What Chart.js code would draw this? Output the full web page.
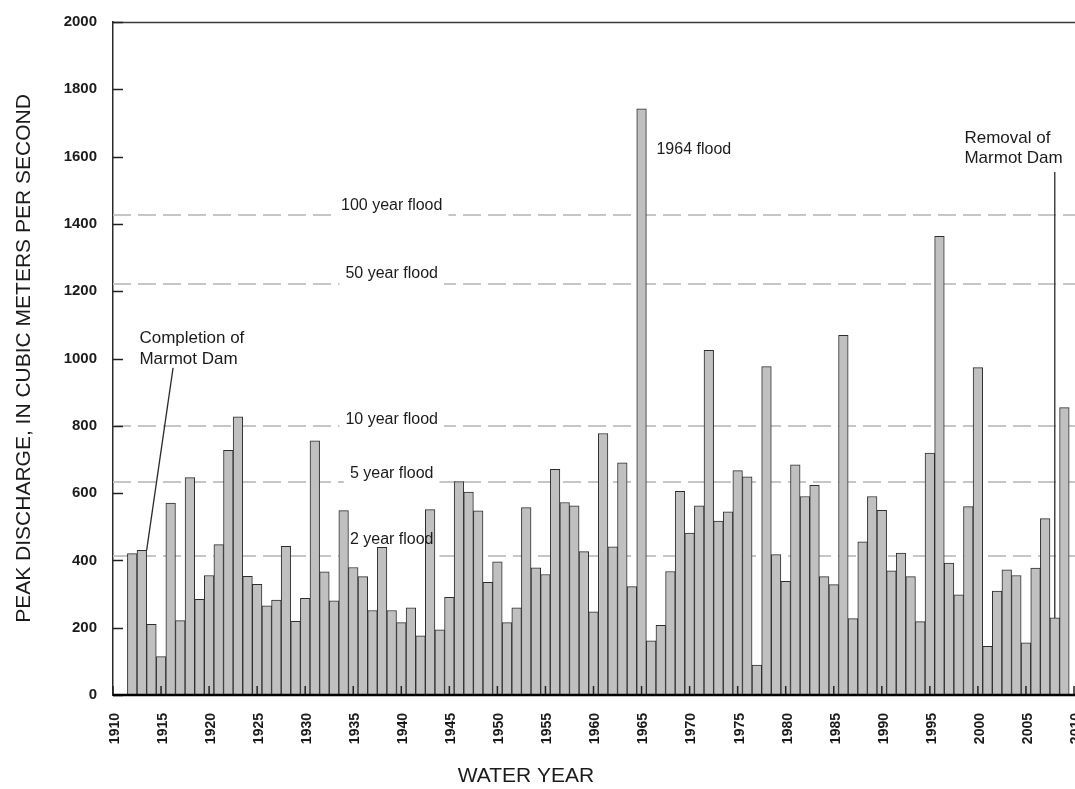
<!DOCTYPE html>
<html>
<head>
<meta charset="utf-8">
<title>Peak discharge by water year</title>
<script src="https://cdn.jsdelivr.net/npm/chart.js@4.4.1/dist/chart.umd.min.js"></script>
<style>
  html, body { margin: 0; padding: 0; background: #ffffff; }
  canvas { display: block; }
</style>
</head>
<body>
<canvas id="peaks" width="1075" height="789"></canvas>
<script>
// Annual peak discharge, cubic meters per second, by water year
const waterYears = [
  1912, 1913, 1914, 1915, 1916, 1917, 1918, 1919, 1920, 1921,
  1922, 1923, 1924, 1925, 1926, 1927, 1928, 1929, 1930, 1931,
  1932, 1933, 1934, 1935, 1936, 1937, 1938, 1939, 1940, 1941,
  1942, 1943, 1944, 1945, 1946, 1947, 1948, 1949, 1950, 1951,
  1952, 1953, 1954, 1955, 1956, 1957, 1958, 1959, 1960, 1961,
  1962, 1963, 1964, 1965, 1966, 1967, 1968, 1969, 1970, 1971,
  1972, 1973, 1974, 1975, 1976, 1977, 1978, 1979, 1980, 1981,
  1982, 1983, 1984, 1985, 1986, 1987, 1988, 1989, 1990, 1991,
  1992, 1993, 1994, 1995, 1996, 1997, 1998, 1999, 2000, 2001,
  2002, 2003, 2004, 2005, 2006, 2007, 2008, 2009
];
const peakDischarge = [
   420,  430,  210,  114,  570,  221,  646,  284,  355,  447,
   727,  827,  353,  329,  265,  282,  442,  219,  287,  755,
   366,  280,  548,  379,  352,  251,  439,  251,  215,  259,
   176,  551,  194,  290,  634,  603,  547,  335,  396,  215,
   259,  557,  378,  358,  671,  572,  562,  426,  247,  777,
   440,  690,  322, 1742,  161,  207,  367,  605,  481,  562,
  1024,  517,  544,  667,  648,   89,  976,  417,  338,  684,
   590,  623,  352,  328, 1069,  227,  455,  590,  549,  369,
   422,  352,  218,  719, 1363,  392,  298,  560,  973,  145,
   309,  372,  355,  155,  377,  524,  229,  854
];

// Recurrence-interval flood discharges
const floodLevels = [412, 632, 800, 1222, 1426];
const floodNames  = ['2 year flood', '5 year flood', '10 year flood', '50 year flood', '100 year flood'];

// Axis ticks
const xTickYears  = [1910, 1915, 1920, 1925, 1930, 1935, 1940, 1945, 1950, 1955, 1960,
                     1965, 1970, 1975, 1980, 1985, 1990, 1995, 2000, 2005, 2010];
const yTickValues = [0, 200, 400, 600, 800, 1000, 1200, 1400, 1600, 1800, 2000];

// Dam history
const damBuiltYear   = 1913;
const damRemovedYear = 2008;

// ---- styling -------------------------------------------------------------
const SANS = '"Liberation Sans", Arial, Helvetica, sans-serif';
const INK  = '#1b1b1b';

// where each flood label sits: centre year and lift above its line (px)
const floodLabelYear = 1939;
const floodLabelLift = [12.5, 4, 2, 6, 5.5];

function valueAt(year) {
  return peakDischarge[waterYears.indexOf(year)];
}

const overlay = {
  id: 'overlay',
  beforeDatasetsDraw(chart) {
    const { ctx, chartArea: a, scales: { x, y } } = chart;
    ctx.save();
    // dashed recurrence lines, behind the bars
    ctx.strokeStyle = '#c6c6c6';
    ctx.lineWidth = 2;
    ctx.setLineDash([18, 7]);
    floodLevels.forEach(v => {
      const py = Math.round(y.getPixelForValue(v));
      ctx.beginPath();
      ctx.moveTo(a.left, py);
      ctx.lineTo(chart.width, py);
      ctx.stroke();
    });
    ctx.setLineDash([]);
    // knock the line out behind each label
    ctx.font = '16px ' + SANS;
    ctx.fillStyle = '#ffffff';
    floodLevels.forEach((v, i) => {
      const w = ctx.measureText(floodNames[i]).width;
      const cx = x.getPixelForValue(floodLabelYear);
      const py = y.getPixelForValue(v);
      ctx.fillRect(cx - w / 2 - 6, py - 3, w + 12, 6);
    });
    ctx.restore();
  },
  afterDatasetsDraw(chart) {
    const { ctx, chartArea: a, scales: { x, y } } = chart;
    ctx.save();

    // flood labels
    ctx.font = '16px ' + SANS;
    ctx.fillStyle = INK;
    ctx.textAlign = 'center';
    ctx.textBaseline = 'alphabetic';
    floodLevels.forEach((v, i) => {
      ctx.fillText(floodNames[i], x.getPixelForValue(floodLabelYear),
                   y.getPixelForValue(v) - floodLabelLift[i]);
    });

    // frame: top edge, baseline, inward ticks
    ctx.strokeStyle = '#3a3a3a';
    ctx.lineWidth = 1.5;
    ctx.beginPath();
    ctx.moveTo(a.left, a.top + 0.5);
    ctx.lineTo(chart.width, a.top + 0.5);
    ctx.stroke();

    ctx.strokeStyle = '#222';
    ctx.lineWidth = 1.5;
    yTickValues.forEach(v => {
      const py = Math.round(y.getPixelForValue(v)) + 0.5;
      ctx.beginPath();
      ctx.moveTo(a.left, py);
      ctx.lineTo(a.left + 10, py);
      ctx.stroke();
    });
    xTickYears.forEach(t => {
      const px = x.getPixelForValue(t);
      ctx.beginPath();
      ctx.moveTo(px, a.bottom);
      ctx.lineTo(px, a.bottom - 9);
      ctx.stroke();
    });

    ctx.strokeStyle = '#000';
    ctx.lineWidth = 2.5;
    ctx.beginPath();
    ctx.moveTo(a.left, a.bottom);
    ctx.lineTo(chart.width, a.bottom);
    ctx.stroke();

    // annotations
    ctx.fillStyle = INK;
    ctx.textAlign = 'left';
    ctx.textBaseline = 'middle';
    ctx.font = '17px ' + SANS;
    ctx.fillText('Completion of', x.getPixelForValue(1912.75), y.getPixelForValue(1061));
    ctx.fillText('Marmot Dam',    x.getPixelForValue(1912.75), y.getPixelForValue(999));
    ctx.fillText('Removal of',    x.getPixelForValue(1998.6),  y.getPixelForValue(1655));
    ctx.fillText('Marmot Dam',    x.getPixelForValue(1998.6),  y.getPixelForValue(1595));
    ctx.font = '16px ' + SANS;
    ctx.fillText('1964 flood',    x.getPixelForValue(1966.55), y.getPixelForValue(1620));

    ctx.strokeStyle = '#2a2a2a';
    ctx.lineWidth = 1.3;
    ctx.beginPath();
    ctx.moveTo(x.getPixelForValue(1916.25), y.getPixelForValue(972));
    ctx.lineTo(x.getPixelForValue(damBuiltYear + 0.5), y.getPixelForValue(valueAt(damBuiltYear)));
    ctx.stroke();
    ctx.beginPath();
    ctx.moveTo(x.getPixelForValue(damRemovedYear), y.getPixelForValue(1554));
    ctx.lineTo(x.getPixelForValue(damRemovedYear), y.getPixelForValue(valueAt(damRemovedYear)));
    ctx.stroke();

    // horizontal axis title
    ctx.font = '21px ' + SANS;
    ctx.textAlign = 'center';
    ctx.fillText('WATER YEAR', 526, 776);

    ctx.restore();
  }
};

new Chart(document.getElementById('peaks'), {
  type: 'bar',
  data: {
    datasets: [{
      data: waterYears.map((yr, i) => ({ x: yr, y: peakDischarge[i] })),
      backgroundColor: '#c0c0c0',
      borderColor: '#2e2e2e',
      borderWidth: 1,
      borderSkipped: 'start',
      barPercentage: 1,
      categoryPercentage: 1
    }]
  },
  options: {
    responsive: false,
    animation: false,
    devicePixelRatio: 1,
    layout: { padding: { left: 0, right: 1, top: 22, bottom: 0 } },
    plugins: {
      legend: { display: false },
      tooltip: { enabled: false }
    },
    scales: {
      x: {
        type: 'linear',
        min: 1910,
        max: 2010,
        offset: false,
        grid: { display: false, drawTicks: false },
        border: { display: false },
        afterBuildTicks: s => { s.ticks = xTickYears.map(v => ({ value: v })); },
        afterFit: s => { s.height = 94; s.paddingLeft = 0; s.paddingRight = 0; },
        ticks: {
          autoSkip: false,
          minRotation: 90,
          maxRotation: 90,
          padding: 18,
          labelOffset: 2,
          color: INK,
          font: { family: SANS, size: 14, weight: 'bold' },
          callback: v => String(v)
        }
      },
      y: {
        min: 0,
        max: 2000,
        grid: { display: false, drawTicks: false },
        border: { display: true, color: '#2a2a2a', width: 1.5 },
        afterBuildTicks: s => { s.ticks = yTickValues.map(v => ({ value: v })); },
        afterFit: s => { s.width = 113; s.paddingTop = 0; s.paddingBottom = 0; },
        ticks: {
          padding: 16,
          color: INK,
          font: { family: SANS, size: 15, weight: 'bold' },
          callback: v => String(v)
        },
        title: {
          display: true,
          text: 'PEAK DISCHARGE, IN CUBIC METERS PER SECOND',
          color: INK,
          font: { family: SANS, size: 21 },
          padding: { top: 12, bottom: 0 }
        }
      }
    }
  },
  plugins: [overlay]
});
</script>
</body>
</html>
